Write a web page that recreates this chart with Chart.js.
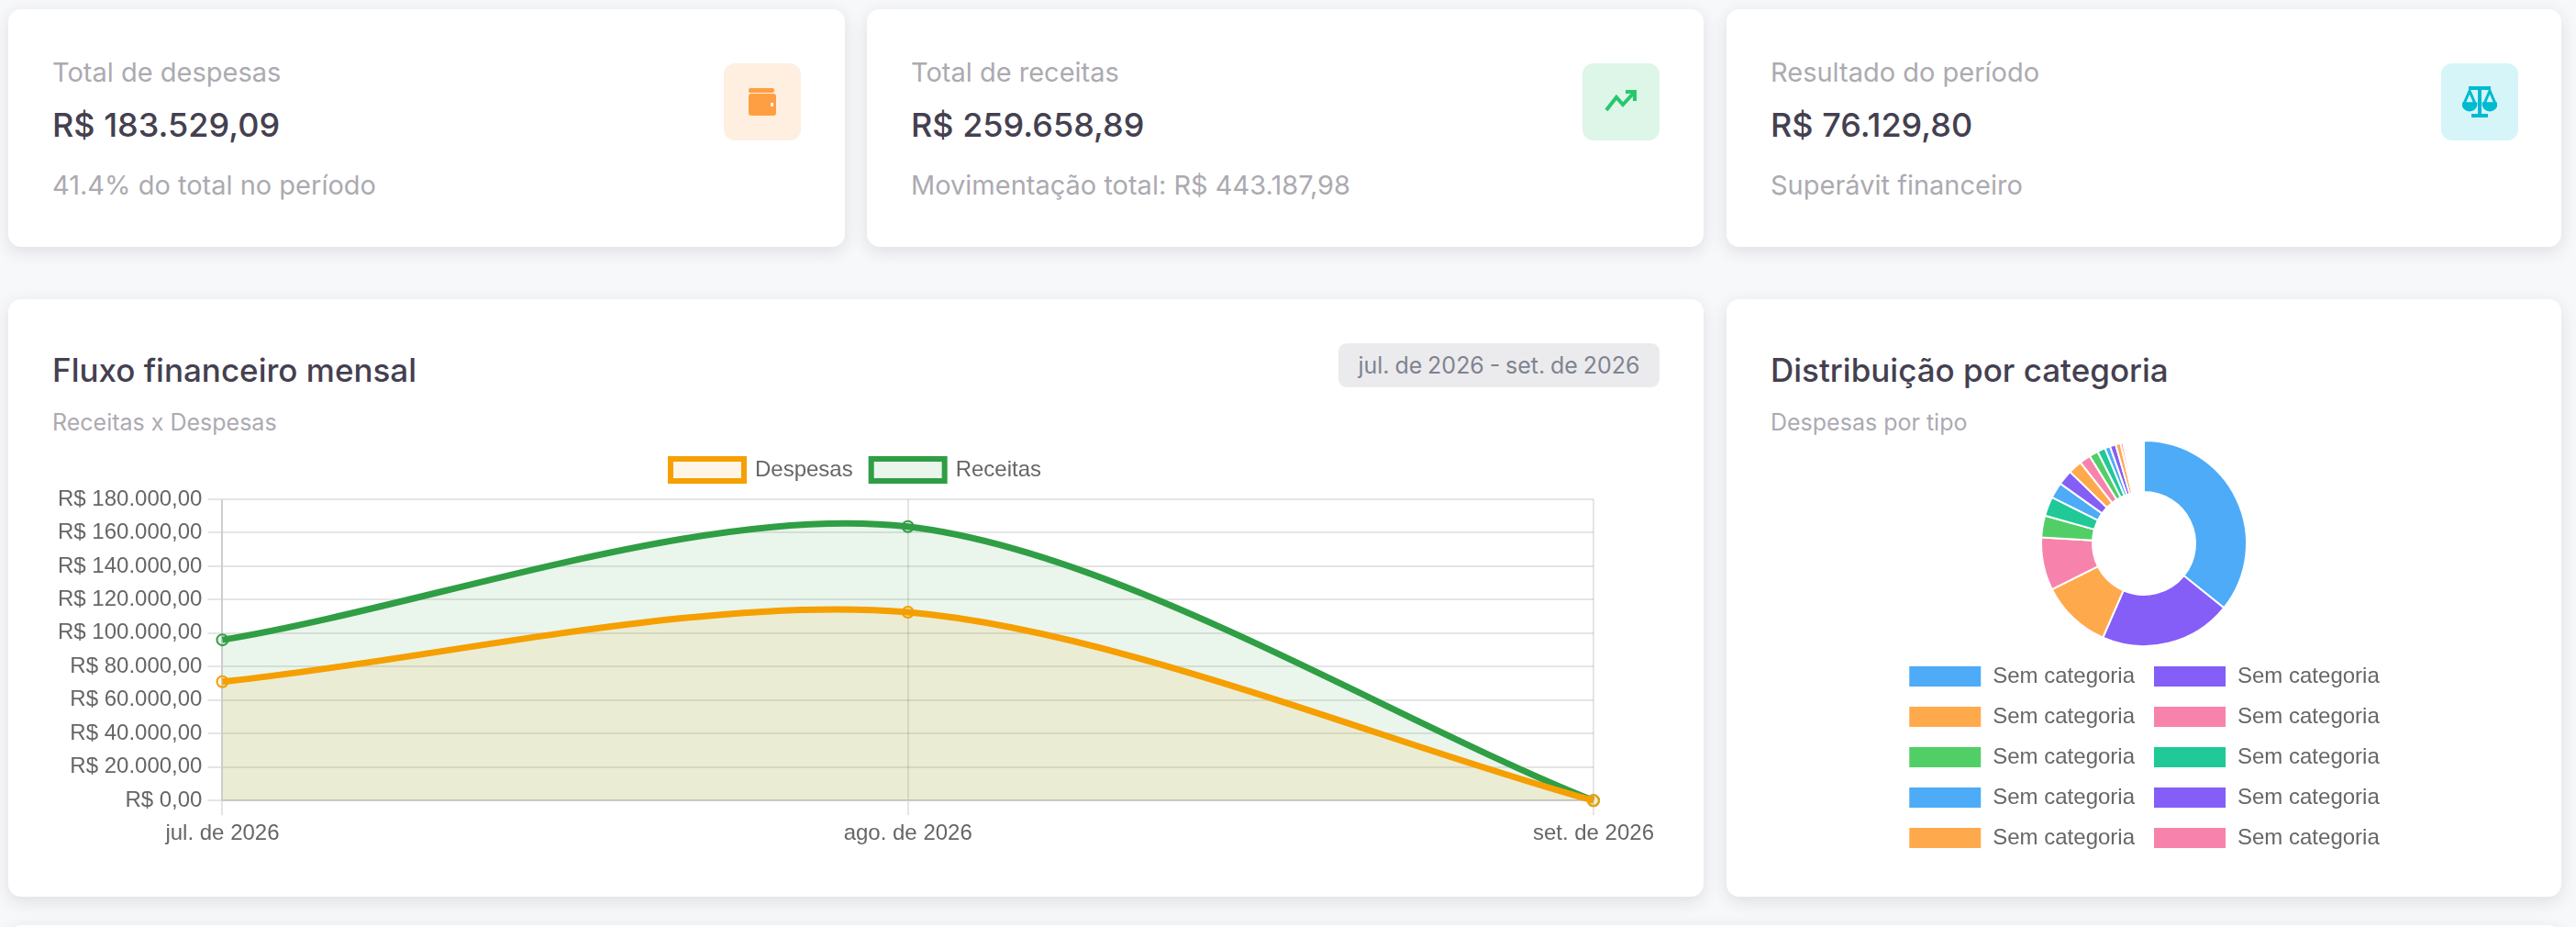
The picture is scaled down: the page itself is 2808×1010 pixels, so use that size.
<!DOCTYPE html>
<html lang="pt-BR">
<head>
<meta charset="UTF-8">
<title>Fluxo financeiro</title>
<script src="https://cdn.jsdelivr.net/npm/chart.js@4"></script>
<style>
    html, body { margin: 0; padding: 0; }
    body { width: 2808px; height: 1010px; overflow: hidden; position: relative; background: #f7f8fa; font-family: Inter, sans-serif; }
    .card { position: absolute; background: #fff; border-radius: 14px; box-shadow: 0 5px 18px rgba(47,43,61,.12); }
    .t { position: absolute; white-space: nowrap; line-height: 1; transform: translateY(-50%); }
    .label { font-size: 29px; color: #acaab1; top: 68px; left: 48px; }
    .value { font-size: 36px; color: #444050; top: 126px; left: 48px; font-weight: 450; }
    .sub { font-size: 29px; color: #acaab1; top: 191px; left: 48px; }
    .icon { position: absolute; top: 59px; width: 84px; height: 84px; border-radius: 12px; display: flex; align-items: center; justify-content: center; }
    .head { font-size: 35px; color: #444050; top: 77px; left: 48px; font-weight: 450; }
    .note { font-size: 25px; color: #acaab1; top: 134px; left: 48px; }
    .badge { position: absolute; left: 1450px; top: 48px; width: 350px; height: 48px; border-radius: 9px; background: #ebebed; color: #808390; font-size: 25px; word-spacing: -1.2px; display: flex; align-items: center; justify-content: center; }
    canvas { position: absolute; }
</style>
</head>
<body>
    <!-- Cards de cima -->
    <div class="card" style="left:9px;top:10px;width:912px;height:259px">
        <div class="t label">Total de despesas</div>
        <div class="t value">R$ 183.529,09</div>
        <div class="t sub">41.4% do total no período</div>
        <div class="icon" style="left:780px;background:#ffefe1">
            <svg width="36" height="36" viewBox="0 0 36 36"><rect x="3" y="3" width="28" height="5" rx="2" fill="#ff9f43"/><rect x="3" y="9" width="30" height="24" rx="3" fill="#ff9f43"/><rect x="27" y="19" width="3" height="4" rx="1" fill="#fff"/></svg>
        </div>
    </div>
    <div class="card" style="left:945px;top:10px;width:912px;height:259px">
        <div class="t label">Total de receitas</div>
        <div class="t value">R$ 259.658,89</div>
        <div class="t sub">Movimentação total: R$ 443.187,98</div>
        <div class="icon" style="left:780px;background:#ddf6e8">
            <svg width="36" height="36" viewBox="0 0 36 36" fill="none" stroke="#28c76f" stroke-width="4"><path d="M2 27 L13 13 L20 21 L33 7"/><path d="M23 7 H33 V17"/></svg>
        </div>
    </div>
    <div class="card" style="left:1882px;top:10px;width:910px;height:259px">
        <div class="t label">Resultado do período</div>
        <div class="t value">R$ 76.129,80</div>
        <div class="t sub">Superávit financeiro</div>
        <div class="icon" style="left:779px;background:#d6f5f9">
            <svg width="38" height="36" viewBox="0 0 38 36" fill="none" stroke="#00bad1" stroke-width="3"><path d="M19 1 V32 M7 3 H31 M10 33 H28" stroke-width="4"/><path d="M8 6 L2 20 H14 Z M30 6 L24 20 H36 Z"/><path d="M1 20 A7 7 0 0 0 15 20 Z M23 20 A7 7 0 0 0 37 20 Z" fill="#00bad1"/></svg>
        </div>
    </div>

    <!-- Fluxo mensal -->
    <div class="card" style="left:9px;top:326px;width:1848px;height:651px">
        <div class="t head">Fluxo financeiro mensal</div>
        <div class="t note">Receitas x Despesas</div>
        <div class="badge">jul. de 2026 - set. de 2026</div>
    </div>
    <canvas id="fluxoChart" width="1752" height="449" style="left:57px;top:480px"></canvas>

    <!-- Distribuicao -->
    <div class="card" style="left:1882px;top:326px;width:910px;height:651px">
        <div class="t head">Distribuição por categoria</div>
        <div class="t note">Despesas por tipo</div>
    </div>
    <canvas id="categoriaChart" width="814" height="452" style="left:1930px;top:479px"></canvas>

    <div class="card" style="left:9px;top:1008px;width:2783px;height:200px"></div>

    <script>
        const meses = ['jul. de 2026', 'ago. de 2026', 'set. de 2026'];
        const despesas = [71000, 112529, 0];
        const receitas = [96000, 163658, 0];

        const categoriaValores = [65770, 38080, 20340, 15240, 6320, 5560, 4590, 4330, 3980, 3210, 2600, 2290, 1530, 1680, 1430, 765, 460, 400,
            350, 340, 330, 320, 310, 300, 290, 280, 270, 260, 250, 240, 230, 220, 210, 200, 190, 180, 170, 160];
        const categoriaLabels = categoriaValores.map(() => 'Sem categoria');
        const paleta = ['#4dabf7', '#845ef7', '#ffa94d', '#f783ac', '#51cf66', '#20c997'];

        Chart.defaults.font.family = '"Liberation Sans", Helvetica, Arial, sans-serif';
        Chart.defaults.font.size = 24;
        Chart.defaults.animation = false;

        const moeda = v => 'R$ ' + v.toLocaleString('pt-BR', { minimumFractionDigits: 2, maximumFractionDigits: 2 });

        // espaco extra entre a legenda e o grafico
        const legendaFolga = {
            id: 'legendaFolga',
            beforeInit(chart) {
                const fit = chart.legend.fit;
                chart.legend.fit = function () {
                    fit.call(this);
                    this.height += 10;
                };
            }
        };

        new Chart(document.getElementById('fluxoChart'), {
            type: 'line',
            plugins: [legendaFolga],
            data: {
                labels: meses,
                datasets: [
                    { label: 'Despesas', data: despesas, borderColor: '#f59f00', backgroundColor: 'rgba(245,159,0,0.1)', borderWidth: 7, fill: true, tension: 0.3, pointRadius: 6, pointBorderWidth: 2 },
                    { label: 'Receitas', data: receitas, borderColor: '#2f9e44', backgroundColor: 'rgba(47,158,68,0.1)', borderWidth: 7, fill: true, tension: 0.3, pointRadius: 6, pointBorderWidth: 2 }
                ]
            },
            options: {
                responsive: false,
                devicePixelRatio: 1,
                plugins: {
                    legend: {
                        labels: {
                            boxWidth: 80,
                            padding: 20,
                            generateLabels(chart) {
                                const itens = Chart.defaults.plugins.legend.labels.generateLabels(chart);
                                itens.forEach(item => { item.lineWidth = 6; });
                                return itens;
                            }
                        }
                    },
                    tooltip: { enabled: false }
                },
                scales: {
                    x: { grid: { lineWidth: 2, tickLength: 16 }, border: { width: 2 }, ticks: { padding: 6 } },
                    y: { beginAtZero: true, grid: { lineWidth: 2, tickLength: 16 }, border: { width: 2 }, ticks: { padding: 6, callback: moeda } }
                }
            }
        });

        new Chart(document.getElementById('categoriaChart'), {
            type: 'doughnut',
            data: {
                labels: categoriaLabels,
                datasets: [{ data: categoriaValores, backgroundColor: categoriaValores.map((_, i) => paleta[i % paleta.length]), borderColor: '#fff', borderWidth: 2 }]
            },
            options: {
                responsive: false,
                devicePixelRatio: 1,
                cutout: '50%',
                plugins: { legend: { position: 'bottom', labels: { boxWidth: 80, padding: 20 } }, tooltip: { enabled: false } }
            }
        });
    </script>
</body>
</html>
